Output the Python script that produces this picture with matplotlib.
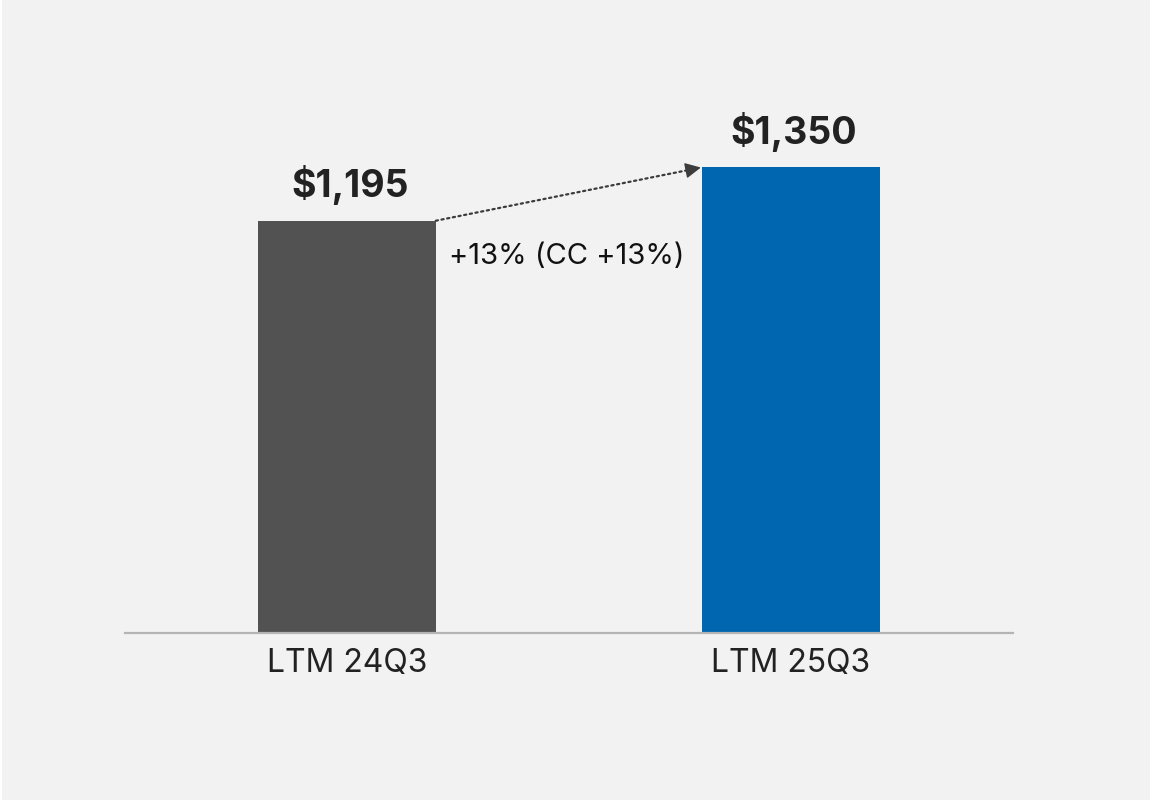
import matplotlib
matplotlib.use("Agg")
import matplotlib.pyplot as plt
from matplotlib.patches import Rectangle

plt.rcParams['font.family'] = ['Inter', 'DejaVu Sans']

# LTM revenue comparison
categories = ['LTM 24Q3', 'LTM 25Q3']
values = [1195, 1350]
value_labels = ['$1,195', '$1,350']
bar_colors = ['#525252', '#0066b0']
growth_text = '+13% (CC +13%)'

bg = '#f2f2f2'
fig = plt.figure(figsize=(11.52, 8.02), dpi=100, facecolor='white')
fig.patches.append(Rectangle((2 / 1152, 2 / 802), 1148 / 1152, 800 / 802,
                             transform=fig.transFigure, facecolor=bg,
                             edgecolor='none', zorder=-1))

# axes spans x 125..1013 px, baseline at y=633 px
ax = fig.add_axes([125 / 1152, (802 - 633) / 802, 888 / 1152, 552 / 802])
ax.set_facecolor('none')

x = list(range(len(categories)))
bars = ax.bar(x, values, width=0.4, color=bar_colors, zorder=2)
ax.set_xlim(-0.5, 1.5)
ax.set_ylim(0, 1600)

for spine in ['top', 'right', 'left']:
    ax.spines[spine].set_visible(False)
ax.spines['bottom'].set_color('#b4b4b4')
ax.spines['bottom'].set_linewidth(1.6)
ax.set_yticks([])
ax.set_xticks(x)
ax.set_xticklabels(categories, fontsize=23, color='#222222')
ax.tick_params(axis='x', length=0, pad=10.5)

for xi, v, lab in zip(x, values, value_labels):
    ax.annotate(lab, (xi, v), xytext=(2, 17), textcoords='offset points',
                ha='center', va='baseline', fontsize=27, fontweight='bold',
                color='#222222')

# dotted growth line from top-right corner of first bar to second bar
start = (x[0] + 0.2, values[0])
end = (x[1] - 0.2, values[1])
ax.annotate('', xy=end, xytext=start,
            arrowprops=dict(arrowstyle='-', linestyle=(0, (1, 1.6)),
                            color='#3c3c3c', lw=1.6, shrinkA=0, shrinkB=8))
# solid head on the last bit of the line
t = 0.96
near_end = (start[0] + t * (end[0] - start[0]), start[1] + t * (end[1] - start[1]))
ax.annotate('', xy=end, xytext=near_end,
            arrowprops=dict(arrowstyle='-|>', color='#3c3c3c', lw=1.0,
                            mutation_scale=24, shrinkA=0, shrinkB=1))
ax.text(x[0] + 0.23, 1090, growth_text, ha='left', va='center',
        fontsize=21, color='#111111')

fig.savefig('out.png', dpi=100, facecolor=fig.get_facecolor())
